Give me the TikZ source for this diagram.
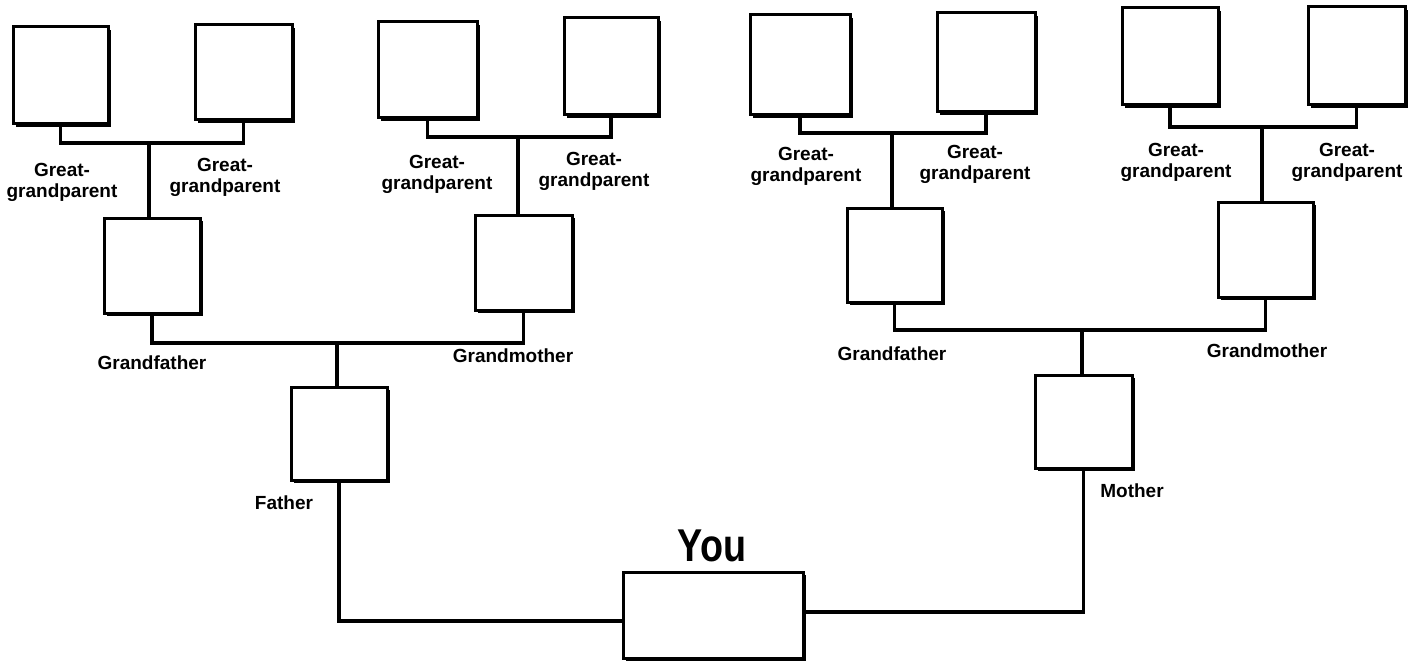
\documentclass[tikz,border=0pt]{standalone}
\usepackage{fontspec}
\setmainfont{Liberation Sans}
\usetikzlibrary{shadows}
\begin{document}
\begin{tikzpicture}[x={(1pt,0pt)}, y={(0pt,-1pt)},
  pbox/.style={draw=black, line width=3pt, fill=white, inner sep=0pt,
    minimum width=96pt, minimum height=96pt,
    drop shadow={shadow xshift=3pt, shadow yshift=-3pt, opacity=1, fill=black}},
  link/.style={draw=black, line width=3.4pt, line join=miter},
  lbl/.style={font=\fontsize{19}{21.5}\selectfont\bfseries, align=center, inner sep=0pt, anchor=north},
  big/.style={font=\fontsize{46}{50}\selectfont\bfseries, inner sep=0pt, anchor=south, xscale=0.82}]
\fill[white] (0,0) rectangle (1415,663);
\useasboundingbox (0,0) rectangle (1415,663);

% great-grandparents
\node[pbox, minimum width=95pt, minimum height=97pt] (gg1) at (60.5,75.5) {};
\node[pbox, minimum width=97pt, minimum height=95pt] (gg2) at (243.5,72.5) {};
\node[pbox, minimum width=99pt] (gg3) at (427.5,70) {};
\node[pbox, minimum width=94pt, minimum height=97pt] (gg4) at (611,66.5) {};
\node[pbox, minimum width=100pt, minimum height=100pt] (gg5) at (800,65) {};
\node[pbox, minimum width=98pt, minimum height=99pt] (gg6) at (986,62.5) {};
\node[pbox, minimum height=97pt] (gg7) at (1170,56.5) {};
\node[pbox, minimum width=97pt, minimum height=98pt] (gg8) at (1356.5,56) {};

% grandparents
\node[pbox, minimum height=95pt] (gf1) at (152,265.5) {};
\node[pbox, minimum width=97pt, minimum height=95pt] (gm1) at (523.5,262.5) {};
\node[pbox, minimum width=95pt, minimum height=94pt] (gf2) at (894.5,255) {};
\node[pbox, minimum width=95pt, minimum height=95pt] (gm2) at (1265.5,249.5) {};

% parents
\node[pbox, minimum width=96pt, minimum height=93pt] (father) at (339,433.5) {};
\node[pbox, minimum width=97pt, minimum height=93pt] (mother) at (1083.5,421.5) {};

% you
\node[pbox, minimum width=180pt, minimum height=86pt] (you) at (713,615) {};
\node[big] (youlbl) at (712,562) {You};

% junctions
\coordinate (j1) at (149,143);
\coordinate (j2) at (518,137);
\coordinate (j3) at (892,133);
\coordinate (j4) at (1262,127);
\coordinate (j5) at (337,343);
\coordinate (j6) at (1082,330);

% connectors
\draw[link] (gg1.south) |- (j1) -| (gg2.south);
\draw[link] (j1) -- (j1 |- gf1.north);
\draw[link] (gg3.south) |- (j2) -| (gg4.south);
\draw[link] (j2) -- (j2 |- gm1.north);
\draw[link] (gg5.south) |- (j3) -| (gg6.south);
\draw[link] (j3) -- (j3 |- gf2.north);
\draw[link] (gg7.south) |- (j4) -| (gg8.south);
\draw[link] (j4) -- (j4 |- gm2.north);
\draw[link] (gf1.south) |- (j5) -| (gm1.south);
\draw[link] (j5) -- (j5 |- father.north);
\draw[link] (gf2.south) |- (j6) -| (gm2.south);
\draw[link] (j6) -- (j6 |- mother.north);
\draw[link] (father.south) |- ([yshift=-6pt]you.west);
\draw[link] ([yshift=3pt]you.east) -| (mother.south);

% labels
\node[lbl] (l1) at (62,163) {Great-\\grandparent};
\node[lbl] (l2) at (225,158) {Great-\\grandparent};
\node[lbl] (l3) at (437,155) {Great-\\grandparent};
\node[lbl] (l4) at (594,152) {Great-\\grandparent};
\node[lbl] (l5) at (806,147) {Great-\\grandparent};
\node[lbl] (l6) at (975,145) {Great-\\grandparent};
\node[lbl] (l7) at (1176,143) {Great-\\grandparent};
\node[lbl] (l8) at (1347,143) {Great-\\grandparent};

\node[lbl] (lgf1) at (152,356) {Grandfather};
\node[lbl] (lgm1) at (513,349) {Grandmother};
\node[lbl] (lgf2) at (892,347) {Grandfather};
\node[lbl] (lgm2) at (1267,344) {Grandmother};

\node[lbl] (lfa) at (284,496) {Father};
\node[lbl] (lmo) at (1132,484) {Mother};
\end{tikzpicture}
\end{document}
